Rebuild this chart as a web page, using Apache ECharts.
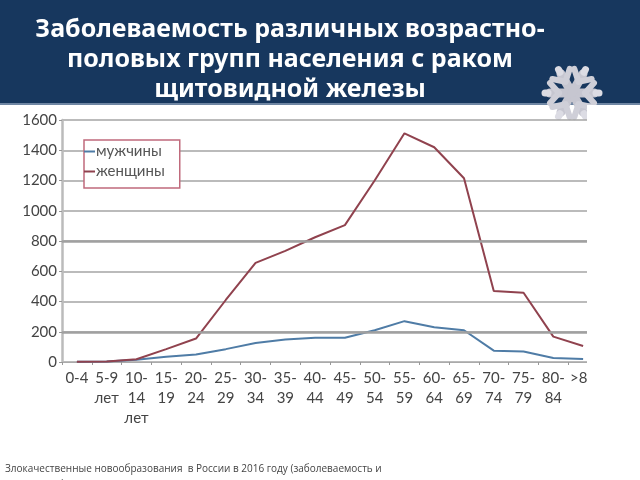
<!DOCTYPE html>
<html><head><meta charset="utf-8">
<style>html,body{margin:0;padding:0;background:#fff;overflow:hidden}#c{width:640px;height:480px}</style>
<script src="https://cdn.jsdelivr.net/npm/echarts@6/dist/echarts.min.js"></script>
</head><body><div id="c"></div>
<script>
const categories = ['0-4','5-9\nлет','10-\n14\nлет','15-\n19','20-\n24','25-\n29','30-\n34','35-\n39','40-\n44','45-\n49','50-\n54','55-\n59','60-\n64','65-\n69','70-\n74','75-\n79','80-\n84','>85'];
const men   = [2,3,15,35,50,85,125,148,160,160,210,270,230,210,75,70,27,20];
const women = [2,3,18,85,155,410,655,735,825,905,1200,1512,1420,1215,469,458,168,106];
const titleText = 'Заболеваемость различных возрастно-\nполовых групп населения с раком\nщитовидной железы';
const footerText = 'Злокачественные новообразования  в России в 2016 году (заболеваемость и\nсмертность)';

const arms = [];
for (let a = 0; a < 6; a++) {
  const mk = (shape, w, c) => ({type:'line', shape, rotation:a*Math.PI/3+Math.PI/6, style:{stroke:c, lineWidth:w, lineCap:'round'}, silent:true});
  arms.push(mk({x1:0,y1:0,x2:0,y2:-22},9,'#c6c6d0'));
  arms.push(mk({x1:0,y1:-13,x2:-10,y2:-22},6,'#cfcfd8'));
  arms.push(mk({x1:0,y1:-13,x2:10,y2:-22},6,'#cfcfd8'));
  arms.push(mk({x1:0,y1:-24,x2:0,y2:-27},7,'#dcdce4'));
}

const chart = echarts.init(document.getElementById('c'), null, {renderer:'canvas'});
chart.setOption({
  animation:false,
  backgroundColor:'#fff',
  title:{text:titleText,left:285,top:10,textAlign:'center',
    textStyle:{color:'#fff',fontFamily:'"Noto Sans"',fontWeight:'bold',fontSize:25,lineHeight:30}},
  legend:{left:84,top:140,orient:'vertical',itemWidth:11,itemHeight:2,itemGap:3,padding:[3,15,8,0],
    backgroundColor:'#fff',borderColor:'#c06a7c',borderWidth:1.5,
    icon:'rect',textStyle:{fontFamily:'Lato',fontSize:15,color:'#555',padding:[0,0,0,-4],lineHeight:17},
    data:['мужчины','женщины']},
  grid:{left:62,right:42,top:120,bottom:118},
  xAxis:{type:'category',data:categories,boundaryGap:true,
    axisLine:{lineStyle:{color:'#aaa',width:1}},
    axisTick:{show:true,length:3,lineStyle:{color:'#999'}},
    axisLabel:{interval:0,color:'#444',fontFamily:'Lato',fontSize:15,lineHeight:20,margin:6,verticalAlign:'top'},
    splitLine:{show:false}},
  yAxis:{type:'value',min:0,max:1600,interval:200,
    axisLine:{show:true,lineStyle:{color:'#bbb',width:2.5}},
    axisTick:{show:true,length:3,lineStyle:{color:'#999'}},
    axisLabel:{color:'#444',fontFamily:'Lato',fontSize:15,margin:5,formatter:v=>String(v)},
    splitLine:{lineStyle:{color:'#a5a5a5',width:1.5}}},
  series:[
    {name:'мужчины',type:'line',data:men,symbol:'none',
     lineStyle:{color:'#4f7ca6',width:2},itemStyle:{color:'#4f7ca6'},
     markLine:{silent:true,symbol:'none',label:{show:false},animation:false,
       lineStyle:{color:'#a0a0a0',width:2.5,type:'solid'},
       data:[{yAxis:200},{yAxis:800}]}},
    {name:'женщины',type:'line',data:women,symbol:'none',
     lineStyle:{color:'#90424e',width:2},itemStyle:{color:'#90424e'}}
  ],
  graphic:[
    {type:'rect',z:-10,shape:{x:0,y:0,width:640,height:103},style:{fill:'#17375e'},silent:true},
    {type:'rect',z:-10,shape:{x:0,y:103,width:640,height:2},style:{fill:'#6f86a3'},silent:true},
    {type:'rect',z:50,shape:{x:587,y:105,width:53,height:300},style:{fill:'#fff'},silent:true},
    {type:'group',z:60,x:572,y:93,children:arms,silent:true},
    {type:'text',z:60,x:5,y:462,silent:true,style:{text:footerText,fontFamily:'"Open Sans"',fontSize:10,lineHeight:15,fill:'#444'}}
  ]
});
</script></body></html>
